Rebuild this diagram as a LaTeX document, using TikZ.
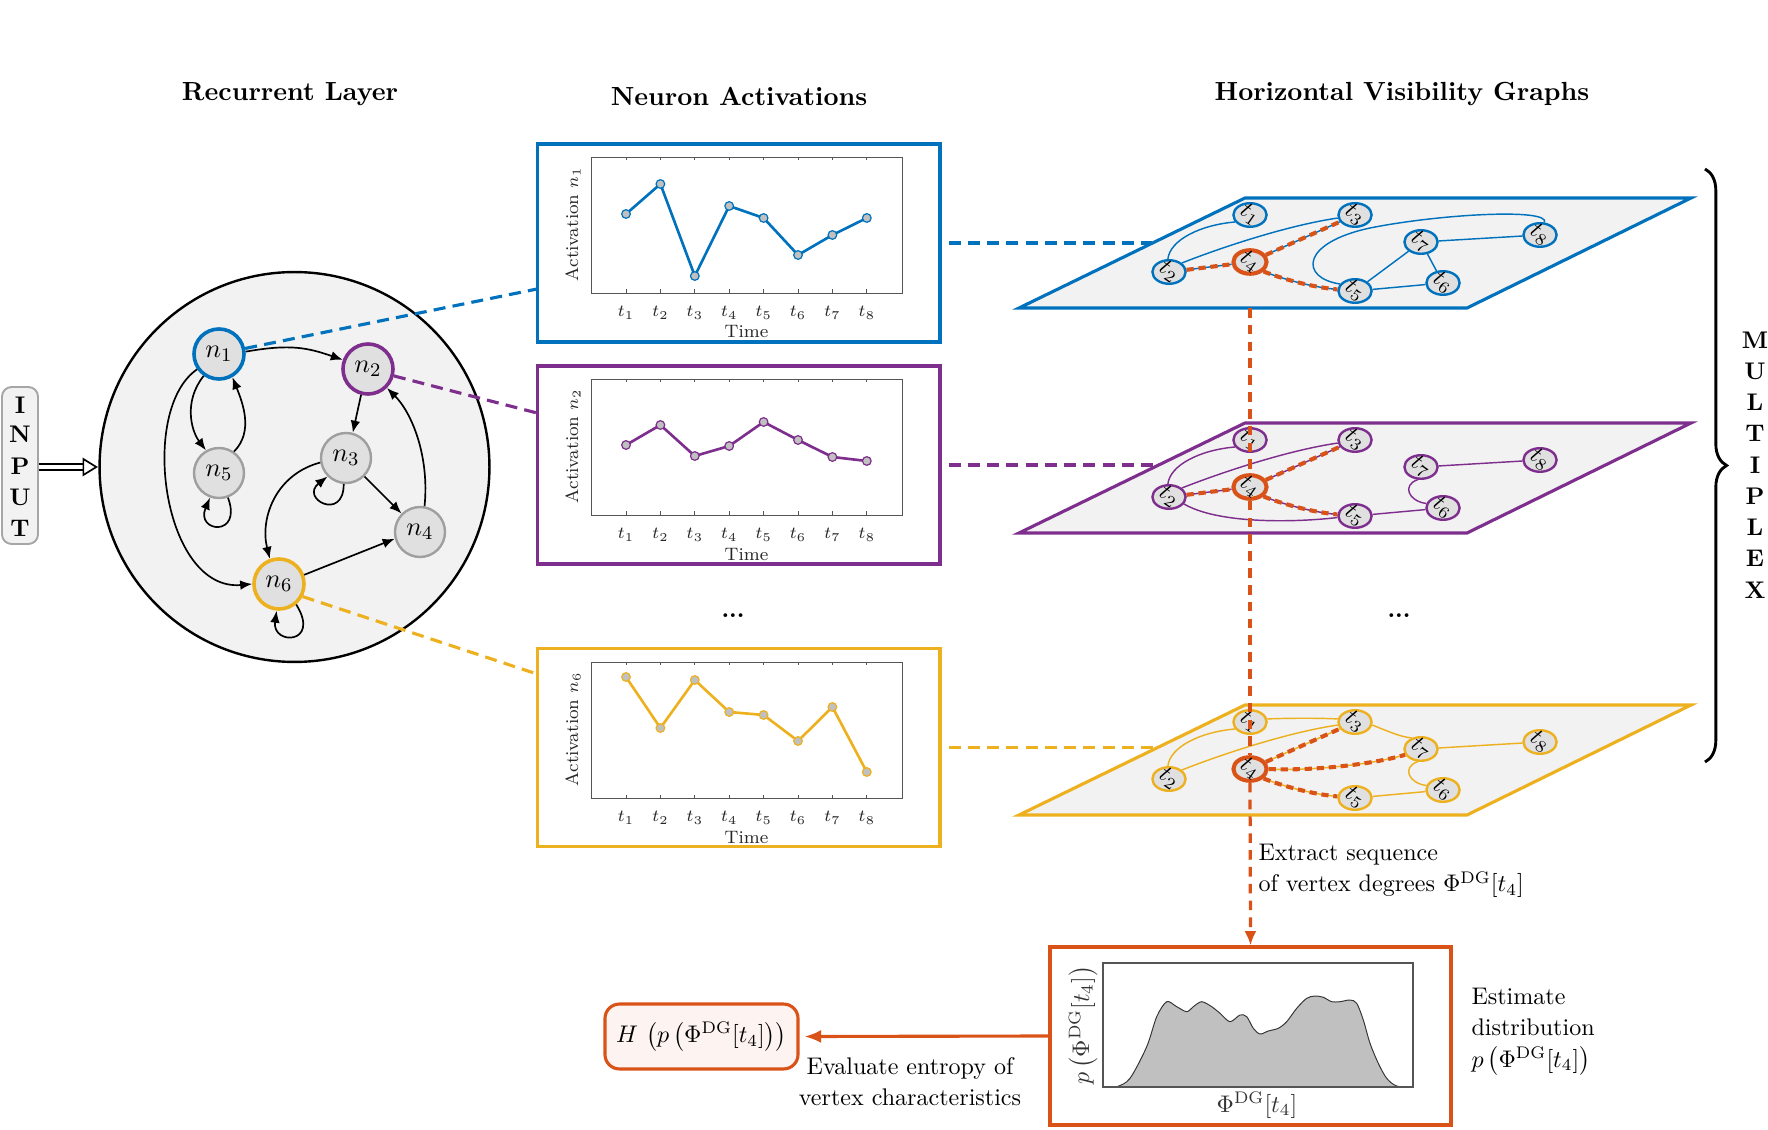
\documentclass[tikz,border=0pt]{standalone}
\usetikzlibrary{arrows.meta,decorations.pathreplacing,calc,shapes.geometric}
\definecolor{mblue}{HTML}{0072BD}
\definecolor{mpurple}{HTML}{7E2F8E}
\definecolor{myellow}{HTML}{EDB120}
\definecolor{morange}{HTML}{D95319}
\definecolor{planefill}{HTML}{F2F2F2}
\definecolor{nfill}{HTML}{E0E0E0}
\definecolor{ptfill}{HTML}{C0C0C0}
\definecolor{hfill}{HTML}{FDF4F1}
\definecolor{axgray}{HTML}{555555}
\newcommand{\actplot}[4]{%
\begin{scope}[shift={(537,#1)}]
\draw[axgray, line width=0.4pt] (54,13) rectangle (365,149);
\foreach \i in {1,...,8}{
 \pgfmathsetmacro{\xx}{89+(\i-1)*34.4}
 \draw[axgray, line width=0.4pt] (\xx,149) -- (\xx,145.5) (\xx,13) -- (\xx,16.5);
 \node[ticklab] (tl#3\i) at (\xx,169) {$t_{\i}$};
}
\node[ticklab] (time#3) at (209.5,188) {Time};
\node[ticklab, rotate=90] (ylab#3) at (36,80) {Activation $n_{#3}$};
\draw[#2, line width=1.1pt, mark=*, mark size=1.8pt, mark options={fill=ptfill, draw=#2, line width=0.5pt}] plot coordinates {#4};
\end{scope}}
\newcommand{\hvnodes}[3]{%
\begin{scope}[shift={(0,#3)}]
\node[hv, draw=#2, label={[hvlab]center:$t_1$}] (#11) at (1250,17) {};
\node[hv, draw=#2, label={[hvlab]center:$t_2$}] (#12) at (1169,74) {};
\node[hv, draw=#2, label={[hvlab]center:$t_3$}] (#13) at (1355,17) {};
\node[hv, draw=morange, line width=1.7pt, label={[hvlab]center:$t_4$}] (#14) at (1250,64) {};
\node[hv, draw=#2, label={[hvlab]center:$t_5$}] (#15) at (1355,93) {};
\node[hv, draw=#2, label={[hvlab]center:$t_6$}] (#16) at (1443,85) {};
\node[hv, draw=#2, label={[hvlab]center:$t_7$}] (#17) at (1421,44) {};
\node[hv, draw=#2, label={[hvlab]center:$t_8$}] (#18) at (1540,37) {};
\draw[hvedge, #2] (#12.95) .. controls (1170,42) and (1200,27) .. (#11.205);
\draw[hvedge, #2] (#12.35) .. controls (1225,48) and (1290,27) .. (#13.190);
\draw[hvedge, #2] (#17) -- (#18);
\end{scope}}
\begin{document}
\begin{tikzpicture}[x=0.416pt,y=-0.416pt,
  neuron/.style={circle, draw=gray!75, line width=1pt, fill=nfill, minimum size=20.8pt, inner sep=0pt, font=\fontsize{11}{13}\selectfont},
  arr/.style={-{Latex[length=5pt,width=4pt]}, line width=0.7pt},
  conn/.style={line width=1.3pt, dash pattern=on 5pt off 3pt},
  actbox/.style={draw, line width=1.3pt, minimum width=167.6pt, minimum height=82.4pt, inner sep=0pt},
  hv/.style={ellipse, fill=nfill, line width=1pt, minimum width=13.8pt, minimum height=9.8pt, inner sep=0pt},
  hvlab/.style={rotate=-35, font=\normalsize, inner sep=0pt},
  hvedge/.style={line width=0.6pt},
  hvdash/.style={draw=morange, line width=1.7pt, dash pattern=on 3pt off 2pt},
  plane/.style={fill=planefill, line width=1.3pt},
  ttl/.style={font=\fontsize{10.9}{13}\selectfont\bfseries},
  body/.style={font=\fontsize{10}{13}\selectfont},
  ticklab/.style={font=\fontsize{7.5}{9}\selectfont, text=black!85, inner sep=1pt},
]
\useasboundingbox (0,0) rectangle (1768,1130);

% titles
\node[ttl] (tRL) at (290,94) {Recurrent Layer};
\node[ttl] (tNA) at (739,96) {Neuron Activations};
\node[ttl] (tHV) at (1402,94) {Horizontal Visibility Graphs};

% recurrent layer
\node[circle, draw, line width=1pt, fill=planefill, minimum size=162.2pt] (rl) at (294.5,467) {};
\node[rounded corners=4pt, draw=gray!70, fill=planefill, line width=0.8pt, minimum width=15pt, minimum height=65.3pt] (inp) at (20,465.5) {};
\foreach \l/\y in {I/405,N/434,P/466,U/497,T/528}
  \node[font=\bfseries] (inp\l) at (20,\y) {\l};
\coordinate (inTipBase) at ($(rl.west)+(-15,0)$);
\draw[line width=0.7pt, double distance=1.6pt] (inp.east |- inTipBase) -- (inTipBase);
\draw[line width=0.7pt, fill=white] ($(inTipBase)+(0,-8)$) -- ($(rl.west)+(-2,0)$) -- ($(inTipBase)+(0,8)$) -- cycle;

\node[neuron, draw=mblue, line width=1.5pt] (n1) at (219,354) {$n_1$};
\node[neuron, draw=mpurple, line width=1.5pt] (n2) at (368,369) {$n_2$};
\node[neuron] (n3) at (346,458) {$n_3$};
\node[neuron] (n4) at (420,532) {$n_4$};
\node[neuron] (n5) at (219,473) {$n_5$};
\node[neuron, draw=myellow, line width=1.5pt] (n6) at (279,584) {$n_6$};

\draw[arr] (n1.5) .. controls +(45,-8) and +(-35,-12) .. (n2.160);
\draw[arr] (n1.235) .. controls +(-20,25) and +(-15,-20) .. (n5.120);
\draw[arr] (n5.55) .. controls +(20,-20) and +(10,25) .. (n1.300);
\draw[arr] (n5.290) .. controls +(15,40) and +(-15,35) .. (n5.250);
\draw[arr] (n1.215) .. controls (138,410) and (163,592) .. (n6.180);
\draw[arr] (n2.255) -- (n3.75);
\draw[arr] (n3.265) .. controls +(0,38) and +(-28,22) .. (n3.225);
\draw[arr] (n3.-45) -- (n4.135);
\draw[arr] (n3.190) .. controls +(-45,12) and +(-10,-40) .. (n6.110);
\draw[arr] (n4.80) .. controls +(5,-50) and +(25,25) .. (n2.-45);
\draw[arr] (n6.20) -- (n4.195);
\draw[arr] (n6.-50) .. controls +(25,40) and +(-5,35) .. (n6.-95);

% activation boxes
\node[actbox, draw=mblue] (boxA) at (738.5,243) {};
\node[actbox, draw=mpurple] (boxB) at (738.5,465) {};
\node[actbox, draw=myellow] (boxC) at (738.5,747.5) {};
\actplot{144}{mblue}{1}{(89,70) (123.4,40) (157.8,132) (192.2,62) (226.6,74) (261,111) (295.4,91) (329.8,74)}
\actplot{366}{mpurple}{2}{(89,79) (123.4,59) (157.8,90) (192.2,80) (226.6,56) (261,74) (295.4,91) (329.8,95)}
\actplot{649}{myellow}{6}{(89,28) (123.4,79) (157.8,31) (192.2,63) (226.6,66) (261,92) (295.4,58) (329.8,123)}
\node[font=\bfseries] (dots1) at (733,616) {...};

% neuron -> box connectors
\coordinate (eN1) at (537,289);
\coordinate (eN2) at (537,413);
\coordinate (eN6) at (537,674);
\draw[conn, mblue] (n1.12) -- (eN1);
\draw[conn, mpurple] (n2.-15) -- (eN2);
\draw[conn, myellow] (n6.-28) -- (eN6);

% planes
\draw[plane, draw=mblue] (1245,198) -- (1691,198) -- (1467,308) -- (1019,308) -- cycle;
\draw[plane, draw=mpurple] (1245,423) -- (1691,423) -- (1467,533) -- (1019,533) -- cycle;
\draw[plane, draw=myellow] (1245,705) -- (1691,705) -- (1467,815) -- (1019,815) -- cycle;
\coordinate (eA) at (1152,243);
\coordinate (eB) at (1159,465);
\coordinate (eC) at (1158,747.5);
\draw[conn, mblue] ([xshift=3pt]boxA.east) -- (eA);
\draw[conn, mpurple] ([xshift=3pt]boxB.east) -- (eB);
\draw[conn, myellow] ([xshift=3pt]boxC.east) -- (eC);
\node[font=\bfseries] (dots2) at (1399,616) {...};

% blue HVG
\hvnodes{a}{mblue}{198}
\begin{scope}[shift={(0,198)}]
\draw[hvedge, mblue] (a2) -- (a4);
\draw[hvedge, mblue] (a4) -- (a3);
\draw[hvedge, mblue] (a4.-35) .. controls (1280,80) and (1310,89) .. (a5.175);
\draw[hvedge, mblue] (a5) -- (a6);
\draw[hvedge, mblue] (a6) -- (a7);
\draw[hvedge, mblue] (a5) -- (a7);
\draw[hvedge, mblue] (a5.155) .. controls (1300,80) and (1300,45) .. (1370,30) .. controls (1440,16) and (1550,10) .. (a8.70);
\draw[hvdash] (a2) -- (a4);
\draw[hvdash] (a4) -- (a3);
\draw[hvdash] (a4.-35) .. controls (1280,80) and (1310,89) .. (a5.175);
\end{scope}

% purple HVG
\hvnodes{b}{mpurple}{423}
\begin{scope}[shift={(0,423)}]
\draw[hvedge, mpurple] (b2) -- (b4);
\draw[hvedge, mpurple] (b4) -- (b3);
\draw[hvedge, mpurple] (b4.-35) .. controls (1280,80) and (1310,89) .. (b5.175);
\draw[hvedge, mpurple] (b2.-25) .. controls (1220,102) and (1300,99) .. (b5.185);
\draw[hvedge, mpurple] (b5) -- (b6);
\draw[hvedge, mpurple] (b6.165) .. controls (1408,78) and (1402,62) .. (b7.255);
\draw[hvdash] (b2) -- (b4);
\draw[hvdash] (b4) -- (b3);
\draw[hvdash] (b4.-35) .. controls (1280,80) and (1310,89) .. (b5.175);
\end{scope}

% yellow HVG
\hvnodes{c}{myellow}{705}
\begin{scope}[shift={(0,705)}]
\draw[hvedge, myellow] (c1.10) .. controls (1290,13) and (1320,13) .. (c3.170);
\draw[hvedge, myellow] (c3.-10) .. controls (1385,25) and (1400,32) .. (c7.130);
\draw[hvedge, myellow] (c4) -- (c3);
\draw[hvedge, myellow] (c4.east) .. controls (1310,66) and (1370,60) .. (c7.200);
\draw[hvedge, myellow] (c4.-35) .. controls (1280,80) and (1310,89) .. (c5.175);
\draw[hvedge, myellow] (c5) -- (c6);
\draw[hvedge, myellow] (c6.165) .. controls (1408,78) and (1402,62) .. (c7.255);
\draw[hvdash] (c4) -- (c3);
\draw[hvdash] (c4.east) .. controls (1310,66) and (1370,60) .. (c7.200);
\draw[hvdash] (c4.-35) .. controls (1280,80) and (1310,89) .. (c5.175);
\end{scope}

% histogram box
\node[draw=morange, line width=1.3pt, minimum width=166.8pt, minimum height=74pt, inner sep=0pt] (hist) at (1250.5,1036) {};
\draw[axgray, line width=0.5pt] (1103,963) rectangle (1413,1087);
\fill[ptfill] plot[smooth] coordinates {(1103.3,1087.3) (1116.7,1086.7) (1130,1078.3) (1146.7,1046.7) (1156.7,1016.7) (1166.7,1001.7) (1176.7,1006.7) (1186.7,1011.7) (1193.3,1006.7) (1201.7,1001.7) (1211.7,1006.7) (1220,1013.3) (1230,1021.7) (1240,1015) (1246.7,1016.7) (1253.3,1028.3) (1260,1034) (1268.3,1031) (1278.3,1028.3) (1286.7,1021.7) (1296.7,1008.3) (1306.7,998.3) (1315,996) (1323.3,997.3) (1331.7,1001.7) (1340,1001.7) (1350,1000) (1356.7,1003.3) (1363.3,1020) (1370,1043.3) (1378.3,1063.3) (1386.7,1078.3) (1396.7,1086) (1412.7,1087.3)} -- cycle;
\draw[line width=0.4pt, black!80] plot[smooth] coordinates {(1103.3,1087.3) (1116.7,1086.7) (1130,1078.3) (1146.7,1046.7) (1156.7,1016.7) (1166.7,1001.7) (1176.7,1006.7) (1186.7,1011.7) (1193.3,1006.7) (1201.7,1001.7) (1211.7,1006.7) (1220,1013.3) (1230,1021.7) (1240,1015) (1246.7,1016.7) (1253.3,1028.3) (1260,1034) (1268.3,1031) (1278.3,1028.3) (1286.7,1021.7) (1296.7,1008.3) (1306.7,998.3) (1315,996) (1323.3,997.3) (1331.7,1001.7) (1340,1001.7) (1350,1000) (1356.7,1003.3) (1363.3,1020) (1370,1043.3) (1378.3,1063.3) (1386.7,1078.3) (1396.7,1086) (1412.7,1087.3)};
\draw[axgray, line width=0.6pt] (1103,1087) -- (1413,1087);
\node[rotate=90, text=black!80] (hy) at (1083,1025) {$p\left(\Phi^{\mathrm{DG}}[t_4]\right)$};
\node[text=black!80] (hx) at (1257,1105) {$\Phi^{\mathrm{DG}}[t_4]$};

% orange vertical dashed
\coordinate (aBot) at (1250,308);
\draw[morange, line width=1.35pt, dash pattern=on 4pt off 3pt] (aBot) -- (b4.north) (b4.south) -- (c4.north);
\draw[morange, line width=1.35pt, dash pattern=on 4pt off 3pt, -{Latex[length=6pt,width=5pt]}] (c4.south) -- (hist.north);
\node[body, anchor=west, align=left] (extract) at (1250,871) {Extract sequence\\of vertex degrees $\Phi^{\mathrm{DG}}[t_4]$};

% entropy box
\node[draw=morange, fill=hfill, line width=1.3pt, rounded corners=6pt, minimum width=80.3pt, minimum height=27pt] (Hbox) at (701.5,1036.5) {$H\,\left(p\left(\Phi^{\mathrm{DG}}[t_4]\right)\right)$};
\draw[morange, line width=1.3pt, -{Latex[length=7pt,width=5.5pt]}] (hist.west) -- ([xshift=2pt]Hbox.east);
\node[body, align=center] (evaltxt) at (910,1082) {Evaluate entropy of\\vertex characteristics};
\node[body, anchor=west, align=left] (esttxt) at (1463,1032) {Estimate\\distribution\\$p\left(\Phi^{\mathrm{DG}}[t_4]\right)$};

% brace and multiplex
\coordinate (brTop) at (1705,169);
\coordinate (brBot) at (1705,762);
\draw[decorate, decoration={brace, amplitude=9pt}, line width=1.2pt] (brTop) -- (brBot);
\foreach \l [count=\i] in {M,U,L,T,I,P,L,E,X}
  \node[font=\bfseries] (mx\i) at (1755,{340+(\i-1)*31.25}) {\l};
\end{tikzpicture}
\end{document}
